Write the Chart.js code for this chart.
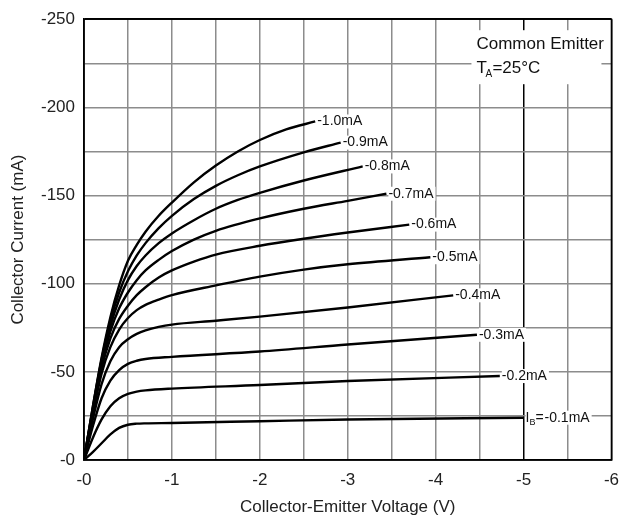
<!DOCTYPE html>
<html>
<head>
<meta charset="utf-8">
<script src="https://cdn.jsdelivr.net/npm/chart.js@4/dist/chart.umd.min.js"></script>
<style>
  html, body { margin: 0; padding: 0; background: #fff; }
  #wrap { width: 629px; height: 520px; }
</style>
</head>
<body>
<div id="wrap"><canvas id="ic"></canvas></div>
<script>
// ── Data: collector current (mA, magnitude) vs Vce (V, magnitude) ──
const curve10 = [[0,0],[0.1,30],[0.2,58],[0.3,81],[0.4,99],[0.5,113],[0.6,122],[0.7,129.5],[0.85,138.5],[1,146],[1.25,157.5],[1.5,167],[1.75,175],[2,181.5],[2.3,187.5],[2.63,192]];
const curve09 = [[0,0],[0.1,30],[0.2,57],[0.3,79],[0.4,95],[0.5,107],[0.6,116],[0.7,123],[0.85,131.5],[1,138.5],[1.25,148],[1.5,155.5],[1.75,161.5],[2,166.5],[2.5,174.5],[2.92,180]];
const curve08 = [[0,0],[0.1,29],[0.2,56],[0.3,76],[0.4,91],[0.5,102],[0.6,110],[0.7,116],[0.85,123],[1,128.5],[1.25,136],[1.5,142.5],[1.75,147.5],[2,151.5],[2.5,158.5],[3.17,166.5]];
const curve07 = [[0,0],[0.1,28],[0.2,54],[0.3,73],[0.4,86],[0.5,95],[0.6,102],[0.7,107.5],[0.85,113.5],[1,118.5],[1.25,125],[1.5,130],[2,137],[2.5,142.5],[3,147],[3.44,151]];
const curve06 = [[0,0],[0.1,27],[0.2,52],[0.3,69],[0.4,80],[0.5,87.5],[0.6,93.5],[0.7,98],[0.85,103.5],[1,107.5],[1.25,112.5],[1.5,116.5],[2,121.5],[2.5,125.5],[3,129],[3.7,133.5]];
const curve05 = [[0,0],[0.1,26],[0.2,49],[0.3,64],[0.4,74],[0.5,80.5],[0.6,85],[0.7,88],[0.85,91],[1,93.5],[1.5,99],[2,104],[2.5,108],[3,111],[3.94,115]];
const curve04 = [[0,0],[0.1,23],[0.2,43],[0.3,56],[0.4,64],[0.5,68.5],[0.6,71.5],[0.7,73.5],[0.85,75.5],[1,76.8],[1.5,79],[2,81.3],[3,86.5],[4.2,93.4]];
const curve03 = [[0,0],[0.1,19],[0.2,35],[0.3,45],[0.4,51],[0.5,54.5],[0.6,56.3],[0.7,57.3],[1,58.5],[2,61.5],[3,65.5],[4.47,71]];
const curve02 = [[0,0],[0.1,12.5],[0.2,23],[0.3,30.5],[0.4,35],[0.5,37.5],[0.6,38.8],[0.7,39.5],[1,40.5],[2,42.5],[3,44.8],[4.73,47.6]];
const curve01 = [[0,0],[0.1,4.5],[0.2,9.5],[0.3,14.5],[0.4,18.2],[0.5,20],[0.6,20.6],[0.7,20.8],[1,21],[2,22],[3,23],[5,24]];

const curves      = [curve10, curve09, curve08, curve07, curve06, curve05, curve04, curve03, curve02, curve01];
const curveLabels = ['-1.0mA','-0.9mA','-0.8mA','-0.7mA','-0.6mA','-0.5mA','-0.4mA','-0.3mA','-0.2mA','-0.1mA'];

const xMax = 6, xStep = 0.5, xLabelEvery = 1;
const yMax = 250, yStep = 25, yLabelEvery = 50;

const FONT = 'Liberation Sans, Arial, Helvetica, sans-serif';

// ── Curve end labels + note box ─────────────────────────
const labelPlugin = {
    id: 'curveLabels',
    beforeDatasetsDraw(chart) {
        const { ctx, chartArea: a } = chart;
        // white box behind the "Common Emitter" note
        ctx.save();
        ctx.fillStyle = '#fff';
        ctx.fillRect(a.right - 140, a.top + 11, 130, 54);
        ctx.restore();
    },
    afterDatasetsDraw(chart) {
        const { ctx, chartArea: a } = chart;
        ctx.save();
        ctx.textBaseline = 'middle';
        ctx.textAlign = 'left';
        chart.data.datasets.forEach((ds, i) => {
            const pts = chart.getDatasetMeta(i).data;
            const end = pts[pts.length - 1];
            let x = end.x + 2, y = end.y;
            ctx.font = '14px ' + FONT;
            const w = ctx.measureText(ds.label).width;
            const pre = i === curves.length - 1 ? 19 : 0;   // room for "I_B="
            ctx.fillStyle = '#fff';
            ctx.fillRect(x, y - 7, w + pre + 2, 14);
            ctx.fillStyle = '#111';
            if (pre) {
                ctx.fillText('I', x, y);
                ctx.font = '9px ' + FONT;
                ctx.fillText('B', x + 4, y + 5);
                ctx.font = '14px ' + FONT;
                ctx.fillText('=', x + 10, y);
                x += pre;
            }
            ctx.fillText(ds.label, x, y);
        });
        // note
        ctx.font = '17px ' + FONT;
        ctx.fillStyle = '#111';
        ctx.fillText('Common Emitter', a.right - 135, a.top + 25);
        ctx.fillText('T', a.right - 135, a.top + 49);
        ctx.font = '10px ' + FONT;
        ctx.fillText('A', a.right - 126, a.top + 55);
        ctx.font = '17px ' + FONT;
        ctx.fillText('=25\u00B0C', a.right - 119, a.top + 49);
        // frame
        ctx.strokeStyle = '#000';
        ctx.lineWidth = 1.5;
        ctx.strokeRect(a.left, a.top, a.right - a.left, a.bottom - a.top);
        ctx.restore();
    }
};

new Chart(document.getElementById('ic'), {
    type: 'line',
    data: {
        datasets: curves.map((c, i) => ({
            label: curveLabels[i],
            data: c.map(p => ({ x: p[0], y: p[1] })),
            borderColor: '#000',
            borderWidth: 2.4,
            pointRadius: 0,
            fill: false,
            cubicInterpolationMode: 'monotone'
        }))
    },
    options: {
        responsive: true,
        maintainAspectRatio: false,
        animation: false,
        layout: { padding: { left: 4, right: 10, top: 14, bottom: 0 } },
        plugins: { legend: { display: false }, tooltip: { enabled: false } },
        scales: {
            x: {
                type: 'linear', min: 0, max: xMax,
                afterFit(s) { s.height = 60; },
                ticks: {
                    stepSize: xStep, padding: 10, color: '#222', maxRotation: 0, autoSkip: false,
                    font: { family: FONT, size: 17 },
                    callback: v => (v % xLabelEvery === 0 ? '-' + v : '')
                },
                grid: {
                    drawTicks: false, lineWidth: 1.5,
                    color: c => (c.tick && (c.tick.value === 5 || c.tick.value === xMax) ? '#000' : '#8c8c8c')
                },
                border: { color: '#000', width: 1.5 },
                title: { display: true, text: 'Collector-Emitter Voltage (V)', color: '#222',
                         font: { family: FONT, size: 17 }, padding: { top: 0, bottom: 2 } }
            },
            y: {
                type: 'linear', min: 0, max: yMax,
                afterFit(s) { s.width = 80; },
                ticks: {
                    stepSize: yStep, padding: 9, color: '#222', autoSkip: false,
                    font: { family: FONT, size: 17 },
                    callback: v => (v % yLabelEvery === 0 ? '-' + v : '')
                },
                grid: {
                    drawTicks: false, lineWidth: 1.5,
                    color: c => (c.tick && c.tick.value === yMax ? '#000' : '#8c8c8c')
                },
                border: { color: '#000', width: 1.5 },
                title: { display: true, text: 'Collector Current (mA)', color: '#222',
                         font: { family: FONT, size: 17 }, padding: { top: 4, bottom: 0 } }
            }
        }
    },
    plugins: [labelPlugin]
});
</script>
</body>
</html>
